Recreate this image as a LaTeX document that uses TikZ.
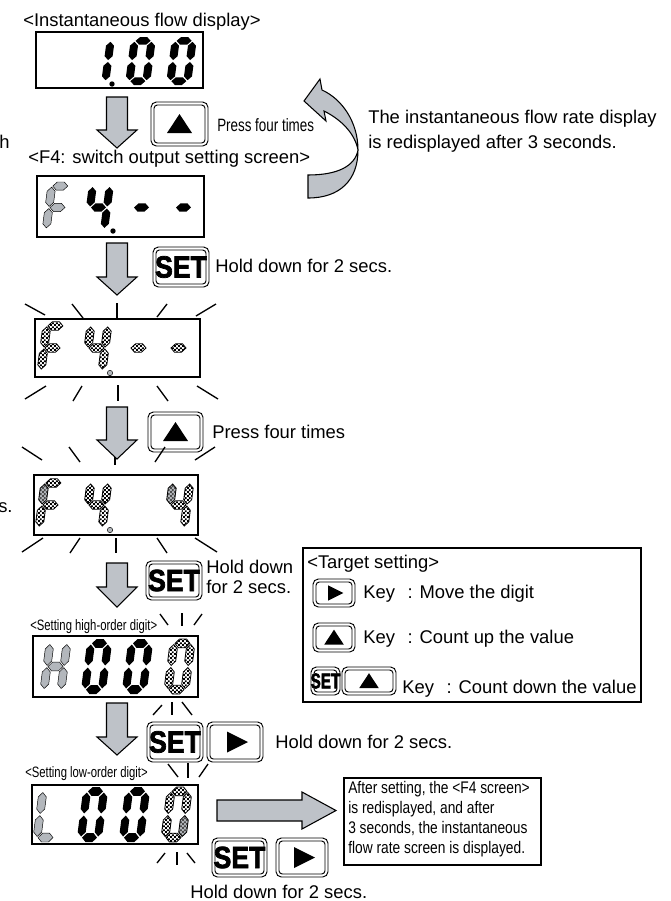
\documentclass[tikz,border=0pt]{standalone}
\usepackage{fontspec}
\setmainfont{Liberation Sans}
\newfontfamily\narrowfont{Liberation Sans}[FakeStretch=0.75]
\newfontfamily\infofont{Liberation Sans}[FakeStretch=0.82]
\newfontfamily\keyfont{Liberation Sans}[FakeBold=2.5]
\usepackage{tikz}
\usetikzlibrary{patterns}
\pgfdeclarepatternformonly{finechecks}{\pgfqpoint{0pt}{0pt}}{\pgfqpoint{3.2pt}{3.2pt}}{\pgfqpoint{3.2pt}{3.2pt}}{%
  \pgfpathrectangle{\pgfqpoint{0pt}{0pt}}{\pgfqpoint{1.6pt}{1.6pt}}%
  \pgfpathrectangle{\pgfqpoint{1.6pt}{1.6pt}}{\pgfqpoint{1.6pt}{1.6pt}}%
  \pgfusepath{fill}}
\definecolor{ArrowGray}{HTML}{BEC2C8}
\definecolor{SegGray}{HTML}{B3B7BC}
\tikzset{
  lcdframe/.style={draw=black,line width=1pt},
  ray/.style={line width=1pt},
  blockarrow/.style={fill=ArrowGray,draw=black,line width=0.8pt,line join=miter},
  keyline/.style={draw=black,line width=0.7pt},
  segon/.style={fill=black},
  segdim/.style={fill=SegGray,draw=black,line width=0.35pt},
  segblink/.style={pattern=finechecks,draw=black,line width=0.6pt},
  segblinkdim/.style={preaction={fill=SegGray},pattern=finechecks,pattern color=black!70,draw=black,line width=0.6pt},
  setlabel/.style={inner sep=0pt,anchor=center},
  txt/.style={anchor=base west,inner sep=0pt,font=\fontsize{13.8}{16.5}\selectfont},
  narrowtxt/.style={anchor=base west,inner sep=0pt,font=\narrowfont\fontsize{13.4}{15}\selectfont},
  labeltxt/.style={anchor=base west,inner sep=0pt,font=\narrowfont\fontsize{11.3}{13}\selectfont},
  infotxt/.style={anchor=north west,inner sep=0pt,align=left,font=\infofont\fontsize{12.6}{15}\selectfont}
}
\newcommand{\hseg}[1]{(1,#1) -- (5,#1-4) -- (12,#1-4) -- (16,#1) -- (12,#1+4) -- (5,#1+4) -- cycle}
\newcommand{\vseg}[3]{(#1,#2+1) -- (#1+4,#2+5) -- (#1+4,#3-5) -- (#1,#3-1) -- (#1-4,#3-5) -- (#1-4,#2+5) -- cycle}
\newcommand{\sega}{\hseg{-21}}
\newcommand{\segb}{\vseg{17}{-21}{0}}
\newcommand{\segc}{\vseg{17}{0}{21}}
\newcommand{\segd}{\hseg{21}}
\newcommand{\sege}{\vseg{0}{0}{21}}
\newcommand{\segf}{\vseg{0}{-21}{0}}
\newcommand{\segg}{\hseg{0}}
\newcommand{\lcdigit}[5]{\begin{scope}[shift={(#1,#2)},xslant=0.13,yscale=#3]
  \foreach \s in {#5}{\path[#4] \csname seg\s\endcsname;}
\end{scope}}
\newcommand{\lcdot}[3]{\path[#3] (#1,#2) circle[radius=2.7];}
\newcommand{\dnarrow}[4]{\draw[blockarrow] (#1-10.5,#2) -- (#1+10.5,#2) -- (#1+10.5,#3) -- (#1+20,#3) -- (#1,#4) -- (#1-20,#3) -- (#1-10.5,#3) -- cycle;}
\newcommand{\keybox}[4]{\draw[keyline,rounded corners=4pt] (#1,#2) rectangle (#3,#4);
  \draw[keyline,rounded corners=2.5pt] (#1+3,#2+3) rectangle (#3-3,#4-3);}
\newcommand{\upkey}[5]{\keybox{#1}{#2}{#3}{#4}
  \fill[shift={({(#1+#3)/2},{(#2+#4)/2})},scale=#5] (-12.5,9) -- (12.5,9) -- (0,-10) -- cycle;}
\newcommand{\rightkey}[5]{\keybox{#1}{#2}{#3}{#4}
  \fill[shift={({(#1+#3)/2},{(#2+#4)/2})},scale=#5] (-8,-10.5) -- (13,0) -- (-8,10.5) -- cycle;}
\newcommand{\setkey}[7]{\keybox{#2}{#3}{#4}{#5}
  \node[setlabel,font=\keyfont\bfseries\fontsize{#6}{#6}\selectfont,yscale=#7] (#1) at ({(#2+#4)/2},{(#3+#5)/2}) {SET};}

\begin{document}
\begin{tikzpicture}[x=0.75pt,y=-0.75pt]
\path[use as bounding box] (0,0) rectangle (671,901);
\node[txt] (flowtitle) at (23,26) {<Instantaneous flow display>};
\draw[lcdframe] (36,32) rectangle (203,88);
\lcdigit{91}{61}{0.96}{segon}{b,c}
\lcdigit{132}{61}{0.96}{segon}{a,b,c,d,e,f}
\lcdigit{173}{61}{0.96}{segon}{a,b,c,d,e,f}
\lcdot{112}{84}{segon}
\dnarrow{117}{97}{130}{148}
\upkey{151}{102}{208}{146}{1}
\node[narrowtxt] (pressa) at (217,131) {Press four times};
\node[txt] (hcut) at (-1,148) {h};
\draw[blockarrow] (308,198) .. controls (340,198) and (358,180) .. (358,150)
  .. controls (358,122) and (342,99) .. (322,90)
  -- (320,79) -- (304,101) -- (326,121) -- (324,111)
  .. controls (342,120) and (355,134) .. (358,150)
  .. controls (355,166) and (338,175) .. (308,175) -- cycle;
\node[txt,anchor=north west,align=left,font=\fontsize{13.8}{19}\selectfont] (redisp) at (368,110) {The instantaneous flow rate display\\is redisplayed after 3 seconds.};
\node[txt] (f4title) at (28,163) {<F4: switch output setting screen>};
\draw[lcdframe] (37,176) rectangle (204,237);
\lcdigit{49}{207.5}{1.02}{segdim}{a,f,e,g}
\lcdigit{90}{207.5}{1.02}{segon}{f,g,b,c}
\lcdigit{133}{207.5}{1.02}{segon}{g}
\lcdigit{175}{207.5}{1.02}{segon}{g}
\lcdot{113}{231}{segon}
\dnarrow{117}{243}{277}{295}
\setkey{seta}{153}{247}{209}{287}{20}{1.15}
\node[txt] (holda) at (215,272) {Hold down for 2 secs.};
\draw[ray] (25,304) -- (45,315);
\draw[ray] (72,304) -- (83,318);
\draw[ray] (117,303) -- (117,318);
\draw[ray] (167,304) -- (157,317);
\draw[ray] (216,304) -- (196,316);
\draw[lcdframe] (35,319) rectangle (200,377);
\lcdigit{44}{348}{1.05}{segblink}{a,f,e,g}
\lcdigit{88}{348}{1.05}{segblink}{f,g,b,c}
\lcdigit{130}{348}{1.05}{segblink}{g}
\lcdigit{170}{348}{1.05}{segblink}{g}
\lcdot{110}{373}{segdim}
\draw[ray] (46,386) -- (25,399);
\draw[ray] (82,386) -- (73,401);
\draw[ray] (118,385) -- (118,401);
\draw[ray] (157,386) -- (168,401);
\draw[ray] (197,386) -- (218,399);
\draw[ray] (22,447) -- (42,460);
\draw[ray] (69,447) -- (80,462);
\draw[ray] (115,448) -- (115,465);
\draw[ray] (165,447) -- (155,462);
\draw[ray] (215,447) -- (195,460);
\dnarrow{117}{407}{440}{459}
\upkey{148}{412}{203}{452}{1}
\node[txt] (pressb) at (212,438) {Press four times};
\node[txt] (scut) at (-2,512) {s.};
\draw[lcdframe] (34,475) rectangle (198,535);
\lcdigit{42}{505}{1.05}{segblink}{a,e,g}
\lcdigit{42}{505}{1.05}{segblinkdim}{f}
\lcdigit{88}{505}{1.05}{segblink}{f,g,b,c}
\lcdigit{170}{505}{1.05}{segblink}{g,b,c}
\lcdigit{170}{505}{1.05}{segblinkdim}{f}
\lcdot{110}{530}{segdim}
\draw[ray] (43,538) -- (22,552);
\draw[ray] (80,538) -- (70,553);
\draw[ray] (116,538) -- (116,553);
\draw[ray] (157,538) -- (167,553);
\draw[ray] (195,538) -- (217,552);
\dnarrow{117}{563}{587}{607}
\setkey{setb}{146}{561}{202}{600}{20}{1.15}
\node[txt,anchor=north west,align=left,font=\fontsize{13.8}{15}\selectfont] (holdb) at (206,560) {Hold down\\for 2 secs.};
\draw[lcdframe] (303,548) rectangle (641,702);
\node[txt] (targettitle) at (307,568) {<Target setting>};
\rightkey{313}{579}{355}{607}{0.72}
\node[txt] (keymove) at (363,598) {Key\hspace{9.5pt}: Move the digit};
\upkey{313}{623}{355}{652}{0.78}
\node[txt] (keyup) at (363,643) {Key\hspace{9.5pt}: Count up the value};
\setkey{setc}{311}{667}{340}{695}{11.5}{1.4}
\upkey{342}{667}{396}{695}{0.78}
\node[txt] (keydown) at (402,693) {Key\hspace{9.5pt}: Count down the value};
\node[labeltxt] (highlabel) at (30,630) {<Setting high-order digit>};
\draw[ray] (160,614) -- (168,625);
\draw[ray] (182,613) -- (182,626);
\draw[ray] (202,614) -- (194,625);
\draw[lcdframe] (33,636) rectangle (198,697);
\lcdigit{47}{666.5}{1.1}{segdim}{b,c,e,f,g}
\lcdigit{88}{666.5}{1.1}{segon}{a,b,c,d,e,f}
\lcdigit{129}{666.5}{1.1}{segon}{a,b,c,d,e,f}
\lcdigit{171}{666.5}{1.1}{segblink}{a,b,c,d,e,f}
\draw[ray] (162,705) -- (153,715);
\draw[ray] (172,702) -- (172,715);
\draw[ray] (182,702) -- (192,715);
\dnarrow{117}{703}{737}{755}
\setkey{setd}{147}{722}{203}{762}{20}{1.15}
\rightkey{207}{722}{263}{762}{1}
\node[txt] (holdc) at (275,748) {Hold down for 2 secs.};
\draw[ray] (168,764) -- (178,777);
\draw[ray] (188,763) -- (188,778);
\draw[ray] (208,764) -- (199,777);
\node[labeltxt] (lowlabel) at (25,777) {<Setting low-order digit>};
\draw[lcdframe] (32,785) rectangle (198,844);
\lcdigit{40}{814.5}{1.1}{segdim}{e,f,d}
\lcdigit{84}{814.5}{1.1}{segon}{a,b,c,d,e,f}
\lcdigit{126}{814.5}{1.1}{segon}{a,b,c,d,e,f}
\lcdigit{168}{814.5}{1.1}{segblink}{a,b,d,e,f}
\lcdigit{168}{814.5}{1.1}{segblinkdim}{c}
\draw[ray] (165,853) -- (157,863);
\draw[ray] (177,852) -- (177,865);
\draw[ray] (187,853) -- (195,863);
\draw[blockarrow] (217,800) -- (302,800) -- (302,792) -- (336,810.5) -- (302,829) -- (302,821) -- (217,821) -- cycle;
\draw[lcdframe] (344,778) rectangle (541,865);
\node[infotxt] (infotext) at (348,781) {After setting, the <F4 screen>\\is redisplayed, and after\\3 seconds, the instantaneous\\flow rate screen is displayed.};
\setkey{sete}{212}{838}{267}{877}{20}{1.15}
\rightkey{276}{838}{328}{877}{1}
\node[txt] (holdd) at (190,898) {Hold down for 2 secs.};
\end{tikzpicture}
\end{document}
